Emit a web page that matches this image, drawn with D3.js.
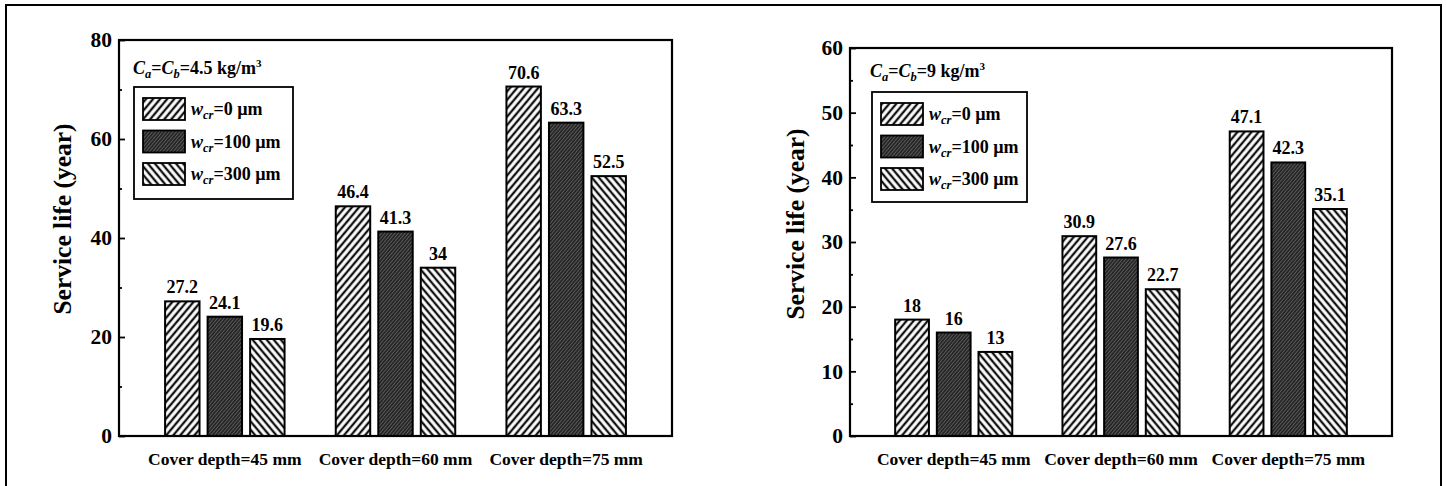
<!DOCTYPE html>
<html>
<head>
<meta charset="utf-8">
<script src="https://d3js.org/d3.v7.min.js"></script>
<style>
  body { margin: 0; background: #fff; }
  svg { display: block; }
  text { font-family: "Liberation Serif", "Times New Roman", serif; fill: #000; }
</style>
</head>
<body>
<script>
// ---- data ----
const categories = ["Cover depth=45 mm", "Cover depth=60 mm", "Cover depth=75 mm"];
const crackWidths = ["0", "100", "300"];              // w_cr in µm
const lifeLeft  = [[27.2, 24.1, 19.6], [46.4, 41.3, 34], [70.6, 63.3, 52.5]];   // Ca=Cb=4.5
const lifeRight = [[18, 16, 13], [30.9, 27.6, 22.7], [47.1, 42.3, 35.1]];       // Ca=Cb=9
const ticksLeft  = [0, 20, 40, 60, 80];
const ticksRight = [0, 10, 20, 30, 40, 50, 60];
const minorLeft  = [10, 30, 50, 70];
const minorRight = [5, 15, 25, 35, 45, 55];
const notes = ["4.5", "9"];

const W = 1447, H = 486;
const svg = d3.select("body").append("svg").attr("width", W).attr("height", H);

// hatching
const defs = svg.append("defs");
function hatch(id, angle, bg, fg, size, sw) {
  const p = defs.append("pattern").attr("id", id)
    .attr("patternUnits", "userSpaceOnUse")
    .attr("width", size).attr("height", size)
    .attr("patternTransform", `rotate(${angle})`);
  p.append("rect").attr("width", size).attr("height", size).attr("fill", bg);
  p.append("line").attr("x1", size / 2).attr("x2", size / 2)
    .attr("y1", 0).attr("y2", size)
    .attr("stroke", fg).attr("stroke-width", sw);
}
hatch("h0", 40, "#fff", "#111", 5.4, 2.3);
hatch("h1", 40, "#262626", "#5c5c5c", 2.6, 0.9);
hatch("h2", -40, "#fff", "#111", 5.4, 2.3);
const fills = ["url(#h0)", "url(#h1)", "url(#h2)"];

// outer frame
svg.append("rect").attr("x", 6).attr("y", 5).attr("width", 1435).attr("height", 500)
  .attr("fill", "none").attr("stroke", "#000").attr("stroke-width", 2);

const panels = [
  { x0: 119, x1: 672, y0: 40, y1: 436, max: 80, ticks: ticksLeft, minor: minorLeft,
    data: lifeLeft, note: notes[0], noteX: 133, noteY: 74,
    box: { x: 134, y: 87, w: 159, h: 112 }, titleX: 62, titleY: 219 },
  { x0: 850, x1: 1392, y0: 48, y1: 436, max: 60, ticks: ticksRight, minor: minorRight,
    data: lifeRight, note: notes[1], noteX: 870, noteY: 77,
    box: { x: 872, y: 92, w: 155, h: 110 }, titleX: 795, titleY: 224 }
];

panels.forEach(p => {
  const g = svg.append("g");
  const y = d3.scaleLinear().domain([0, p.max]).range([p.y1, p.y0]);
  const x0 = d3.scaleBand().domain(categories).range([p.x0, p.x1]).paddingOuter(0.12).paddingInner(0);
  const x1 = d3.scaleBand().domain(crackWidths)
    .range([-x0.bandwidth() * 0.35, x0.bandwidth() * 0.35]).paddingInner(0.19);

  // bars
  const grp = g.selectAll(".grp").data(categories).join("g")
    .attr("transform", c => `translate(${x0(c) + x0.bandwidth() / 2},0)`);
  grp.selectAll("rect").data((c, i) => p.data[i].map((v, j) => ({ v, k: crackWidths[j], j })))
    .join("rect")
    .attr("x", d => x1(d.k)).attr("width", x1.bandwidth())
    .attr("y", d => y(d.v)).attr("height", d => y(0) - y(d.v))
    .attr("fill", d => fills[d.j]).attr("stroke", "#000").attr("stroke-width", 2);
  grp.selectAll("text.val").data((c, i) => p.data[i].map((v, j) => ({ v, k: crackWidths[j] })))
    .join("text").attr("class", "val")
    .attr("x", d => x1(d.k) + x1.bandwidth() / 2).attr("y", d => y(d.v) - 8)
    .attr("text-anchor", "middle").attr("font-size", 18).attr("font-weight", "bold")
    .text(d => d.v);

  // y axis
  const ya = g.append("g").attr("transform", `translate(${p.x0},0)`)
    .call(d3.axisLeft(y).tickValues(p.ticks).tickSize(-6).tickPadding(7).tickFormat(d3.format("d")));
  ya.select(".domain").remove();
  ya.selectAll(".tick line").attr("stroke-width", 1.8);
  ya.selectAll("text").attr("font-size", 21.5).attr("font-weight", "bold");
  const ym = g.append("g").attr("transform", `translate(${p.x0},0)`)
    .call(d3.axisLeft(y).tickValues(p.minor).tickSize(-3).tickFormat(""));
  ym.select(".domain").remove();
  ym.selectAll(".tick line").attr("stroke-width", 1.8);

  // x axis labels
  const xa = g.append("g").attr("transform", `translate(0,${p.y1})`)
    .call(d3.axisBottom(x0).tickSize(0).tickPadding(17));
  xa.select(".domain").remove();
  xa.selectAll("text").attr("font-size", 17.5).attr("font-weight", "bold");

  // frame
  g.append("rect").attr("x", p.x0).attr("y", p.y0)
    .attr("width", p.x1 - p.x0).attr("height", p.y1 - p.y0)
    .attr("fill", "none").attr("stroke", "#000").attr("stroke-width", 2.2);

  // y title
  g.append("text")
    .attr("transform", `translate(${p.titleX},${p.titleY}) rotate(-90)`)
    .attr("text-anchor", "middle").attr("dy", "0.35em")
    .attr("font-size", 25.5).attr("font-weight", "bold")
    .text("Service life (year)");

  // concentration note
  const n = g.append("text").attr("x", p.noteX).attr("y", p.noteY)
    .attr("font-size", 18).attr("font-weight", "bold");
  n.append("tspan").attr("font-style", "italic").text("C");
  n.append("tspan").attr("font-style", "italic").attr("font-size", 12.5).attr("dy", 4).text("a");
  n.append("tspan").attr("dy", -4).text("=");
  n.append("tspan").attr("font-style", "italic").text("C");
  n.append("tspan").attr("font-style", "italic").attr("font-size", 12.5).attr("dy", 4).text("b");
  n.append("tspan").attr("dy", -4).text(`=${p.note} kg/m`);
  n.append("tspan").attr("font-size", 11).attr("dy", -7).text("3");

  // legend
  const b = p.box;
  g.append("rect").attr("x", b.x).attr("y", b.y).attr("width", b.w).attr("height", b.h)
    .attr("fill", "#fff").attr("stroke", "#000").attr("stroke-width", 1.8);
  crackWidths.forEach((w, i) => {
    const ry = b.y + 11 + i * 32.5;
    g.append("rect").attr("x", b.x + 9).attr("y", ry).attr("width", 42).attr("height", 22)
      .attr("fill", fills[i]).attr("stroke", "#000").attr("stroke-width", 1.8);
    const t = g.append("text").attr("x", b.x + 57).attr("y", ry + 17)
      .attr("font-size", 18).attr("font-weight", "bold");
    t.append("tspan").attr("font-style", "italic").text("w");
    t.append("tspan").attr("font-style", "italic").attr("font-size", 12.5).attr("dy", 4).text("cr");
    t.append("tspan").attr("dy", -4).text(`=${w} µm`);
  });
});
</script>
</body>
</html>
